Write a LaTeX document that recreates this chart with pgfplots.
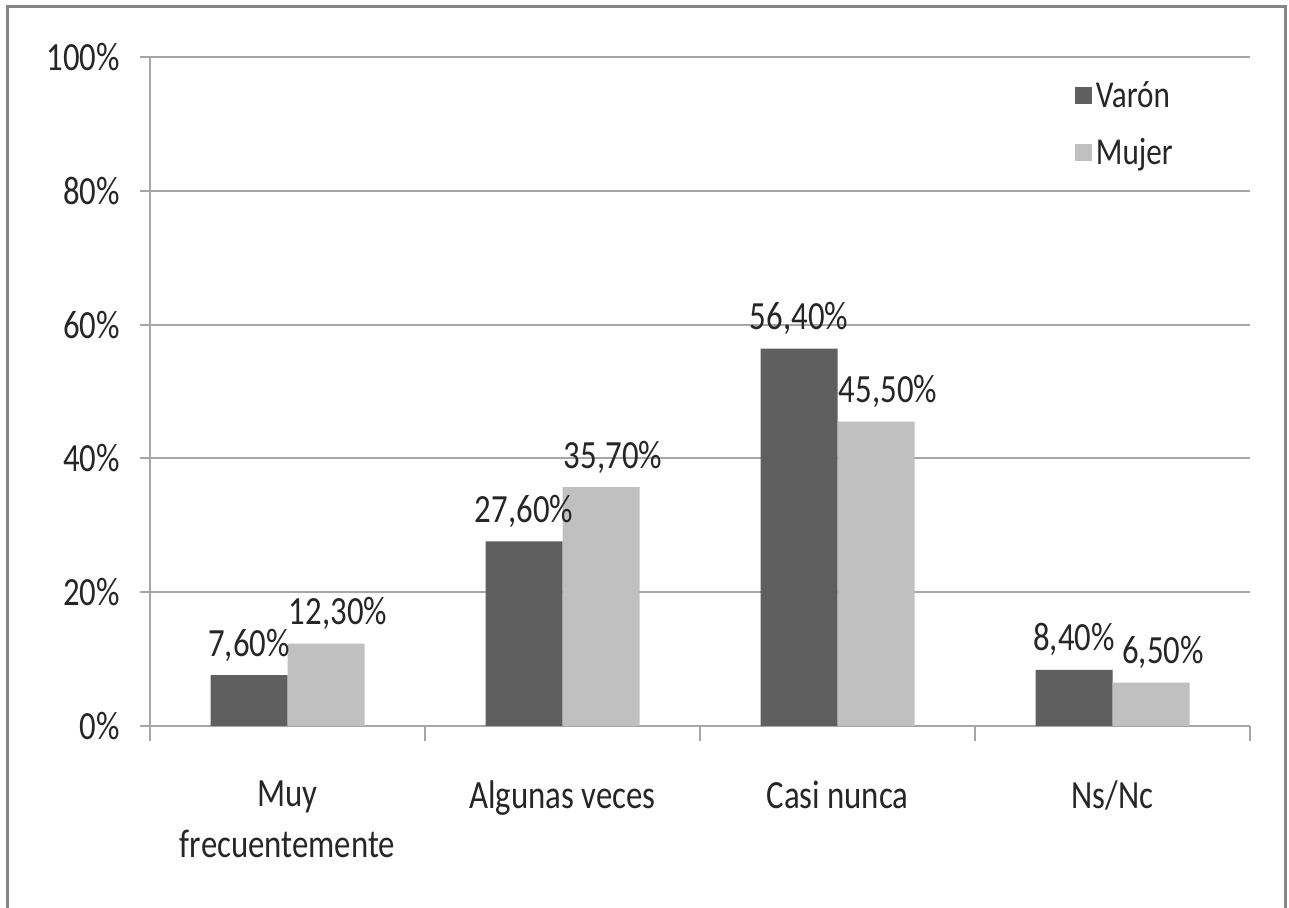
\documentclass[border=0pt]{standalone}
\usepackage{fontspec}
\setmainfont{Carlito}[FakeStretch=0.82]
\usepackage{pgfplots}
\pgfplotsset{compat=1.18}
\definecolor{darkbar}{HTML}{5F5F5F}
\definecolor{lightbar}{HTML}{C0C0C0}
\definecolor{gridc}{HTML}{A6A6A6}
\definecolor{framec}{HTML}{868686}
\definecolor{txt}{HTML}{262626}
\begin{document}
\begin{tikzpicture}
\useasboundingbox (0,0) rectangle (644.5pt,454pt);
\fill[white] (0,0) rectangle (644.5pt,454pt);
\draw[framec, line width=1.5pt] (3.5pt,0) -- (3.5pt,450.5pt) -- (642.5pt,450.5pt) -- (642.5pt,0);
\begin{axis}[
  at={(75pt,91pt)}, anchor=south west,
  scale only axis, width=550pt, height=334.5pt,
  font=\fontsize{20pt}{25.5pt}\selectfont,
  /pgf/number format/assume math mode=true,
  xmin=-0.5, xmax=3.5, ymin=0, ymax=100,
  ybar=0pt, bar width=38.5pt,
  axis line style={gridc, line width=1pt},
  axis x line*=bottom, axis y line*=left,
  ymajorgrids, grid style={gridc, line width=1pt},
  ytick={0,20,40,60,80,100},
  yticklabels={0\%,20\%,40\%,60\%,80\%,100\%},
  xtick={0,1,2,3},
  xticklabels={{Muy\\frecuentemente},{Algunas veces},{Casi nunca},{Ns/Nc}},
  xticklabel style={align=center, yshift=-19pt, text=txt},
  yticklabel style={xshift=-6.5pt, text=txt},
  minor xtick={-0.5,0.5,1.5,2.5,3.5},
  tick align=outside,
  major tick length=5pt, minor tick length=7.5pt,
  major x tick style={draw=none},
  minor x tick style={gridc, line width=1pt},
  y tick style={gridc, line width=1pt},
  legend style={at={(0.835,0.976)}, anchor=north west, draw=none, fill=none,
    row sep=10pt, font=\fontsize{19pt}{22pt}\selectfont, text=txt,
    nodes={inner sep=2pt}},
  legend cell align=left,
  legend image code/.code={\fill[#1] (0pt,-4.25pt) rectangle (8.5pt,4.25pt);},
  nodes near coords,
  point meta=explicit symbolic,
  every node near coord/.append style={font=\fontsize{20pt}{24pt}\selectfont, anchor=base, inner sep=0pt, yshift=9.5pt, text=txt},
]
\addplot[fill=darkbar, draw=none] coordinates {(0,7.6) [7,60\%] (1,27.6) [27,60\%] (2,56.4) [56,40\%] (3,8.4) [8,40\%]};
\addplot[fill=lightbar, draw=none, every node near coord/.append style={xshift=6pt}] coordinates {(0,12.3) [12,30\%] (1,35.7) [35,70\%] (2,45.5) [45,50\%] (3,6.5) [6,50\%]};
\legend{Varón,Mujer}
\end{axis}
\end{tikzpicture}
\end{document}
